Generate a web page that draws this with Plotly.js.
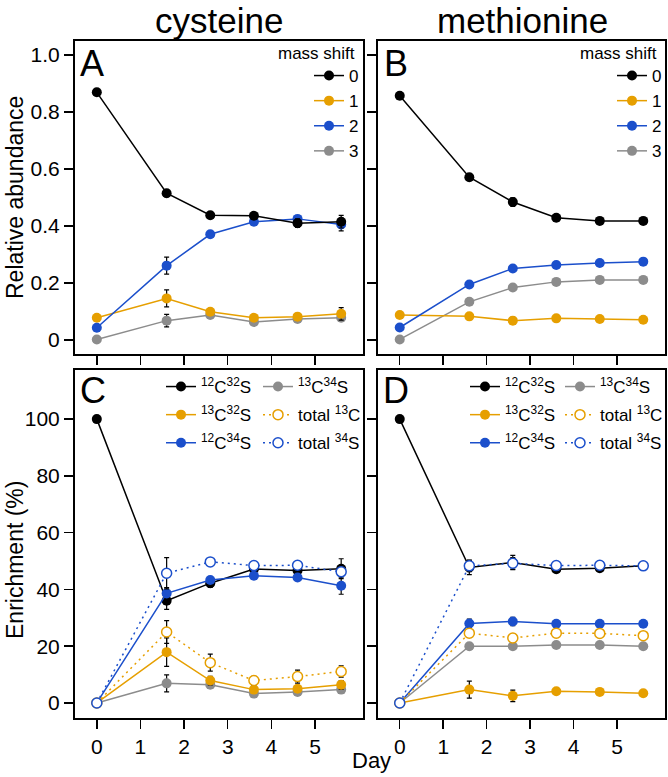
<!DOCTYPE html>
<html>
<head>
<meta charset="utf-8">
<script src="https://cdn.plot.ly/plotly-3.0.1.min.js"></script>
<style>
  body { margin: 0; background: #fff; }
  #chart { width: 668px; height: 777px; }
</style>
</head>
<body>
<div id="chart"></div>
<script>
//sampling days (same for every panel)
var days = [0, 1.6, 2.6, 3.6, 4.6, 5.6];

//panel A - cysteine, relative abundance per mass shift
var cysShift0 = [0.869, 0.515, 0.438, 0.436, 0.410, 0.415];
var cysShift1 = [0.078, 0.146, 0.099, 0.078, 0.082, 0.092];
var cysShift2 = [0.043, 0.261, 0.371, 0.415, 0.425, 0.405];
var cysShift3 = [0.002, 0.068, 0.088, 0.063, 0.074, 0.078];
var cysShift0Err = [0, 0.012, 0.008, 0.006, 0.015, 0.022];
var cysShift1Err = [0, 0.030, 0.008, 0, 0, 0.022];
var cysShift2Err = [0, 0.030, 0.010, 0.010, 0.008, 0.022];
var cysShift3Err = [0, 0.022, 0.010, 0.008, 0.008, 0.010];

//panel B - methionine, relative abundance per mass shift
var metShift0 = [0.857, 0.571, 0.484, 0.429, 0.418, 0.418];
var metShift1 = [0.088, 0.083, 0.068, 0.076, 0.074, 0.071];
var metShift2 = [0.044, 0.195, 0.251, 0.263, 0.270, 0.275];
var metShift3 = [0.002, 0.134, 0.184, 0.204, 0.211, 0.211];
var metShift0Err = [0, 0.010, 0.015, 0.005, 0.005, 0.005];
var metShift1Err = [0, 0.005, 0.012, 0.005, 0.005, 0.005];
var metShift2Err = [0, 0.005, 0.005, 0.005, 0.005, 0.005];
var metShift3Err = [0, 0.005, 0.005, 0.005, 0.005, 0.005];

//panel C - cysteine enrichment (%)
var cys12C32S = [100, 36.0, 42.2, 47.2, 46.7, 47.3];
var cys13C32S = [0, 17.9, 7.9, 4.7, 5.0, 6.4];
var cys12C34S = [0, 38.6, 43.3, 44.8, 44.2, 41.3];
var cys13C34S = [0, 6.9, 6.4, 3.3, 3.9, 4.7];
var cysTotal13C = [0, 25.0, 14.2, 7.9, 9.3, 11.1];
var cysTotal34S = [0, 45.7, 49.7, 48.4, 48.5, 46.2];
var cys12C32SErr = [0, 3, 1.5, 1, 1, 3.5];
var cys13C32SErr = [0, 5, 1.5, 1, 1, 1.5];
var cys12C34SErr = [0, 2, 1, 1, 1, 3];
var cys13C34SErr = [0, 3, 1, 1, 1, 1];
var cysTotal13CErr = [0, 4, 3, 1.5, 2.3, 2];
var cysTotal34SErr = [0, 5.5, 1, 1, 1, 1];

//panel D - methionine enrichment (%)
var met12C32S = [100, 47.7, 49.5, 47.1, 47.5, 48.3];
var met13C32S = [0, 4.7, 2.5, 4.1, 3.9, 3.4];
var met12C34S = [0, 28.0, 28.7, 27.9, 27.9, 27.9];
var met13C34S = [0, 20.0, 20.0, 20.4, 20.4, 20.0];
var metTotal13C = [0, 24.6, 22.9, 24.6, 24.5, 23.7];
var metTotal34S = [0, 48.3, 49.2, 48.4, 48.5, 48.3];
var met12C32SErr = [0, 2.5, 2.5, 1, 1, 1];
var met13C32SErr = [0, 3, 2, 1, 1, 1];
var met12C34SErr = [0, 1.5, 1.5, 1, 1, 1];
var met13C34SErr = [0, 1, 1, 1, 1, 1];
var metTotal13CErr = [0, 1.5, 1.5, 1, 1, 1];
var metTotal34SErr = [0, 2, 2, 1, 1, 1];

//labels
var shiftNames = ['0', '1', '2', '3'];
var isoNames = ['<sup>12</sup>C<sup>32</sup>S', '<sup>13</sup>C<sup>32</sup>S', '<sup>12</sup>C<sup>34</sup>S',
                '<sup>13</sup>C<sup>34</sup>S', 'total <sup>13</sup>C', 'total <sup>34</sup>S'];
var dayTicks = [0, 1, 2, 3, 4, 5];
var abundTicks = [0, 0.2, 0.4, 0.6, 0.8, 1.0];
var abundTickText = ['0', '0.2', '0.4', '0.6', '0.8', '1.0'];
var enrichTicks = [0, 20, 40, 60, 80, 100];

var BLACK = '#000000', ORANGE = '#E69F00', BLUE = '#1B4FCB', GRAY = '#8C8C8C';
var FONT = 'Liberation Sans, Arial, sans-serif';

//pixel -> paper helpers (margins are zero)
function px(x) { return x / 668; }
function py(y) { return 1 - y / 777; }

//one trace builder for all series
var groupCount = 0;
function series(y, err, color, name, xa, ya, leg, open) {
    groupCount++;
    return {
        x: days,
        y: y,
        type: 'scatter',
        mode: 'lines+markers',
        name: name,
        xaxis: xa,
        yaxis: ya,
        legend: leg,
        legendgroup: 'g' + groupCount,
        line: { color: color, width: 1.5, dash: open ? '2px,4px' : 'solid' },
        marker: open
            ? { size: 10, color: '#ffffff', line: { color: color, width: 1.5 } }
            : { size: 10, color: color },
        error_y: { type: 'data', array: err, visible: true, color: BLACK, thickness: 1.2, width: 2.5 },
        cliponaxis: false
    };
}

var data = [
    //A
    series(cysShift3, cysShift3Err, GRAY, shiftNames[3], 'x', 'y', 'legend'),
    series(cysShift1, cysShift1Err, ORANGE, shiftNames[1], 'x', 'y', 'legend'),
    series(cysShift2, cysShift2Err, BLUE, shiftNames[2], 'x', 'y', 'legend'),
    series(cysShift0, cysShift0Err, BLACK, shiftNames[0], 'x', 'y', 'legend'),
    //B
    series(metShift3, metShift3Err, GRAY, shiftNames[3], 'x2', 'y2', 'legend2'),
    series(metShift1, metShift1Err, ORANGE, shiftNames[1], 'x2', 'y2', 'legend2'),
    series(metShift2, metShift2Err, BLUE, shiftNames[2], 'x2', 'y2', 'legend2'),
    series(metShift0, metShift0Err, BLACK, shiftNames[0], 'x2', 'y2', 'legend2'),
    //C
    series(cys13C34S, cys13C34SErr, GRAY, isoNames[3], 'x3', 'y3', 'legend4'),
    series(cys13C32S, cys13C32SErr, ORANGE, isoNames[1], 'x3', 'y3', 'legend3'),
    series(cys12C32S, cys12C32SErr, BLACK, isoNames[0], 'x3', 'y3', 'legend3'),
    series(cys12C34S, cys12C34SErr, BLUE, isoNames[2], 'x3', 'y3', 'legend3'),
    series(cysTotal13C, cysTotal13CErr, ORANGE, isoNames[4], 'x3', 'y3', 'legend4', true),
    series(cysTotal34S, cysTotal34SErr, BLUE, isoNames[5], 'x3', 'y3', 'legend4', true),
    //D
    series(met13C34S, met13C34SErr, GRAY, isoNames[3], 'x4', 'y4', 'legend6'),
    series(met13C32S, met13C32SErr, ORANGE, isoNames[1], 'x4', 'y4', 'legend5'),
    series(met12C32S, met12C32SErr, BLACK, isoNames[0], 'x4', 'y4', 'legend5'),
    series(met12C34S, met12C34SErr, BLUE, isoNames[2], 'x4', 'y4', 'legend5'),
    series(metTotal13C, metTotal13CErr, ORANGE, isoNames[4], 'x4', 'y4', 'legend6', true),
    series(metTotal34S, metTotal34SErr, BLUE, isoNames[5], 'x4', 'y4', 'legend6', true)
];

//legend ranks so the columns read top to bottom like the original
var ranks = [4, 2, 3, 1, 4, 2, 3, 1, 1, 2, 1, 3, 2, 3, 1, 2, 1, 3, 2, 3];
data.forEach(function (t, i) { t.legendrank = ranks[i]; });

function xAxis(dom, anchor, labels) {
    return {
        domain: dom, anchor: anchor, range: [-0.5, 6.1],
        tickvals: dayTicks, showticklabels: labels,
        ticks: 'outside', ticklen: 9, tickwidth: 1.5, tickcolor: BLACK,
        showline: true, linewidth: 2, linecolor: BLACK, mirror: true,
        showgrid: false, zeroline: false, fixedrange: true,
        tickfont: { family: FONT, size: 21, color: BLACK }
    };
}
function yAxis(dom, anchor, range, vals, text, labels) {
    return {
        domain: dom, anchor: anchor, range: range,
        tickvals: vals, ticktext: text, showticklabels: labels,
        ticks: 'outside', ticklen: 9, tickwidth: 1.5, tickcolor: BLACK,
        showline: true, linewidth: 2, linecolor: BLACK, mirror: true,
        showgrid: false, zeroline: false, fixedrange: true,
        tickfont: { family: FONT, size: 21, color: BLACK }
    };
}
function legendAt(x, y, anchor, size, gap) {
    return {
        x: x, y: y, xanchor: anchor, yanchor: 'top',
        xref: 'paper', yref: 'paper',
        bgcolor: 'rgba(0,0,0,0)', borderwidth: 0,
        font: { family: FONT, size: size, color: BLACK },
        traceorder: 'grouped', tracegroupgap: gap,
        itemclick: false, itemdoubleclick: false
    };
}
function label(text, x, y, size, extra) {
    var a = {
        text: text, x: px(x), y: py(y), xref: 'paper', yref: 'paper',
        showarrow: false, font: { family: FONT, size: size, color: BLACK },
        xanchor: 'center', yanchor: 'middle'
    };
    for (var k in extra) a[k] = extra[k];
    return a;
}

var domAx = [px(75), px(363)], domBx = [px(378), px(665)];
var domTop = [py(354), py(41)], domBot = [py(718), py(370)];

var layout = {
    width: 668,
    height: 777,
    margin: { l: 0, r: 0, t: 0, b: 0 },
    paper_bgcolor: '#ffffff',
    plot_bgcolor: '#ffffff',
    font: { family: FONT, color: BLACK },
    showlegend: true,
    xaxis: xAxis(domAx, 'y', false),
    yaxis: yAxis(domTop, 'x', [-0.049, 1.049], abundTicks, abundTickText, true),
    xaxis2: xAxis(domBx, 'y2', false),
    yaxis2: yAxis(domTop, 'x2', [-0.049, 1.049], abundTicks, abundTickText, false),
    xaxis3: xAxis(domAx, 'y3', true),
    yaxis3: yAxis(domBot, 'x3', [-5.3, 117.3], enrichTicks, null, true),
    xaxis4: xAxis(domBx, 'y4', true),
    yaxis4: yAxis(domBot, 'x4', [-5.3, 117.3], enrichTicks, null, false),
    legend: legendAt(px(364), py(58), 'right', 17, 0),
    legend2: legendAt(px(667), py(58), 'right', 17, 0),
    legend3: legendAt(px(161), py(369), 'left', 17, 3),
    legend4: legendAt(px(258), py(369), 'left', 17, 3),
    legend5: legendAt(px(465), py(369), 'left', 17, 3),
    legend6: legendAt(px(560), py(369), 'left', 17, 3),
    annotations: [
        label('cysteine', 219, 20, 35),
        label('methionine', 522, 20, 35),
        label('A', 92, 63, 36),
        label('B', 396, 63, 36),
        label('C', 93, 390, 36),
        label('D', 396, 390, 36),
        label('mass shift', 357, 54, 17, { xanchor: 'right' }),
        label('mass shift', 659, 54, 17, { xanchor: 'right' }),
        label('Relative abundance', 15, 198, 23, { textangle: -90 }),
        label('Enrichment (%)', 15, 560, 23, { textangle: -90 }),
        label('Day', 371, 760, 22)
    ]
};

Plotly.newPlot('chart', data, layout, { displayModeBar: false, staticPlot: true });
</script>
</body>
</html>
